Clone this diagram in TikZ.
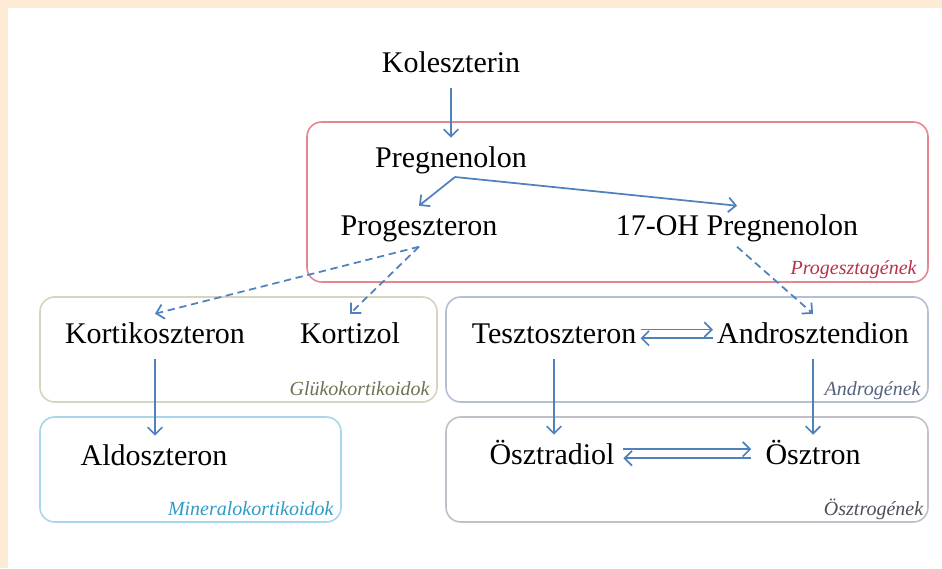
\documentclass[tikz,border=0pt]{standalone}
\usepackage{fontspec}
\setmainfont{Liberation Serif}
\usepackage{tikz}
\usetikzlibrary{arrows.meta,positioning}

\definecolor{peach}{HTML}{FDEBD3}
\definecolor{flow}{HTML}{4F81BD}
\definecolor{progred}{HTML}{E3888E}
\definecolor{progtext}{HTML}{B8304A}
\definecolor{glukoline}{HTML}{D5D5BE}
\definecolor{glukotext}{HTML}{6E7252}
\definecolor{minline}{HTML}{A8D6EA}
\definecolor{mintext}{HTML}{2E9BC9}
\definecolor{andline}{HTML}{B5BFD3}
\definecolor{andtext}{HTML}{56627E}
\definecolor{osztline}{HTML}{C3BFCA}
\definecolor{oszttext}{HTML}{4F4F5A}

\begin{document}
\begin{tikzpicture}[
    x=0.75pt,y=-0.75pt,
    molecule/.style={anchor=base,inner xsep=3pt,inner ysep=6pt,text height=15.75pt,text depth=5.6pt,font=\fontsize{22.5}{27}\selectfont},
    group/.style={rectangle,rounded corners=11pt,line width=1.2pt,minimum width=#1},
    grouplabel/.style={anchor=base east,inner sep=0pt,font=\fontsize{15}{18}\selectfont\itshape},
    arrow/.style={-{Straight Barb[length=5.5pt,width=11pt,line width=1.3pt]},draw=flow,line width=1.3pt},
    dasharrow/.style={arrow,dash pattern=on 5.5pt off 3.5pt}
]
    % background
    \fill[peach] (0,0) rectangle (942,568);
    \fill[white] (8,8) rectangle (942,568);

    % groups
    \node[group=465.75pt,draw=progred,minimum height=120pt] (progbox) at (617.5,202) {};
    \node[group=297.75pt,draw=glukoline,minimum height=78.75pt] (glukobox) at (238.5,349.5) {};
    \node[group=225.75pt,draw=minline,minimum height=78.75pt] (minbox) at (190.5,469.5) {};
    \node[group=361.5pt,draw=andline,minimum height=78.75pt] (andbox) at (687,349.5) {};
    \node[group=361.5pt,draw=osztline,minimum height=78.75pt] (osztbox) at (687,469.5) {};

    \node[grouplabel,text=progtext] at ([xshift=-9pt,yshift=6pt]progbox.south east) {Progesztagének};
    \node[grouplabel,text=glukotext] at ([xshift=-6pt,yshift=5.5pt]glukobox.south east) {Glükokortikoidok};
    \node[grouplabel,text=mintext] at ([xshift=-6pt,yshift=5.5pt]minbox.south east) {Mineralokortikoidok};
    \node[grouplabel,text=andtext] at ([xshift=-6pt,yshift=5.5pt]andbox.south east) {Androgének};
    \node[grouplabel,text=oszttext] at ([xshift=-4pt,yshift=5.5pt]osztbox.south east) {Ösztrogének};

    % molecules
    \node[molecule] (kol) at (451,72) {Koleszterin};
    \node[molecule] (preg) at (451,167) {Pregnenolon};
    \node[molecule] (prog) at (419,235) {Progeszteron};
    \node[molecule] (ohpreg) at (737,235) {17-OH Pregnenolon};
    \node[molecule] (kortiko) at (155,343) {Kortikoszteron};
    \node[molecule] (kortizol) at (350,343) {Kortizol};
    \node[molecule] (tesz) at (554,343) {Tesztoszteron};
    \node[molecule] (andro) at (813,343) {Androsztendion};
    \node[molecule] (aldo) at (154,465) {Aldoszteron};
    \node[molecule] (oszdiol) at (552,464) {Ösztradiol};
    \node[molecule] (osztron) at (813,464) {Ösztron};
    \coordinate (fork) at (455,177);

    % pathways
    \draw[arrow] (kol) -- (preg);
    \draw[arrow] (fork) -- (prog.north);
    \draw[arrow] (fork) -- (ohpreg.north);
    \draw[dasharrow] ([yshift=3pt]prog.south) -- (kortiko.north);
    \draw[dasharrow] ([yshift=3pt]prog.south) -- (kortizol.north);
    \draw[dasharrow] ([yshift=3pt]ohpreg.south) -- (andro.north);
    \draw[arrow] (kortiko.south) -- (kortiko.south |- aldo.north);
    \draw[arrow] (tesz.south) -- (tesz.south |- oszdiol.north);
    \draw[arrow] (andro) -- (osztron);
    \draw[arrow] ([yshift=5pt]tesz.east) -- ([yshift=5pt]andro.west);
    \draw[arrow] ([yshift=-1.5pt]andro.west) -- ([yshift=-1.5pt]tesz.east);
    \draw[arrow,shorten <=3.5pt,shorten >=7.5pt] ([yshift=6pt]oszdiol.east) -- ([yshift=6pt]osztron.west);
    \draw[arrow,shorten <=7.5pt,shorten >=3.5pt] ([yshift=-0.75pt]osztron.west) -- ([yshift=-0.75pt]oszdiol.east);
\end{tikzpicture}
\end{document}
